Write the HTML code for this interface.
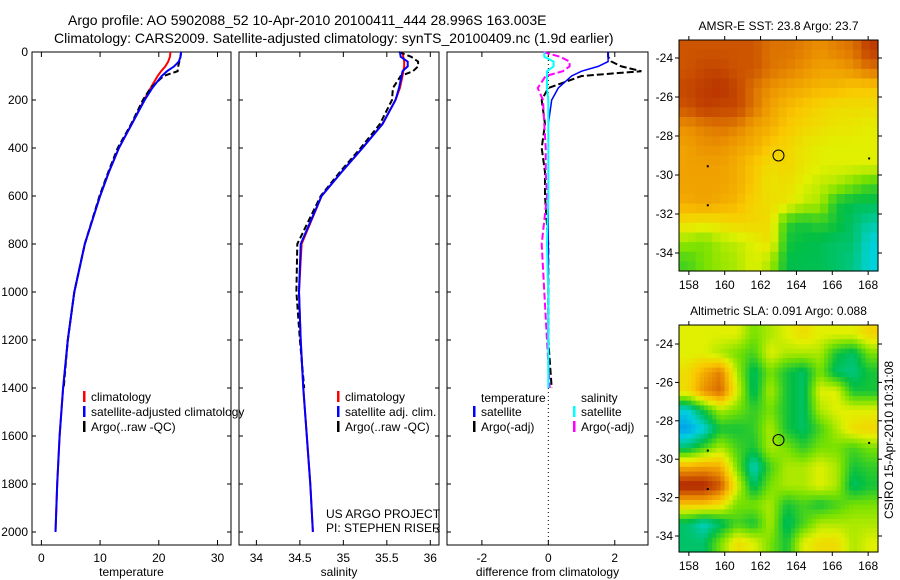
<!DOCTYPE html>
<html><head><meta charset="utf-8"><style>
body{margin:0;background:#fff;}
svg{display:block;font-family:"Liberation Sans",sans-serif;}
</style></head><body>
<svg id="chart" width="900" height="580" viewBox="0 0 900 580">
<rect x="0" y="0" width="900" height="580" fill="#fff"/>
<text x="68" y="25" font-size="14">Argo profile: AO 5902088_52 10-Apr-2010 20100411_444 28.996S 163.003E</text>
<text x="54" y="43" font-size="14">Climatology: CARS2009. Satellite-adjusted climatology: synTS_20100409.nc (1.9d earlier)</text>
<g id="plots"></g>
<text transform="translate(893,440) rotate(-90)" text-anchor="middle" font-size="12">CSIRO 15-Apr-2010 10:31:08</text>
</svg>
<script>
// ---------- data ----------
const depths = [0,20,40,60,80,100,150,200,300,400,500,600,800,1000,1200,1400,1600,1800,2000];
const tempClim = [22.0,21.9,21.6,21.1,20.4,19.8,18.6,17.5,15.4,13.2,11.5,10.0,7.4,5.6,4.5,3.7,3.1,2.7,2.4];
const tempSat  = [23.8,23.7,23.4,22.6,21.4,20.5,18.9,17.6,15.4,13.2,11.5,10.0,7.4,5.6,4.5,3.7,3.1,2.7,2.4];
const tempArgo = [23.8,23.7,23.5,23.3,23.2,20.8,18.6,17.3,15.3,13.0,11.4,9.9,7.4,5.6,4.5,3.8];
const salClim  = [35.68,35.69,35.70,35.70,35.69,35.68,35.65,35.60,35.45,35.22,34.98,34.75,34.52,34.49,34.51,34.54,34.58,34.62,34.65];
const salSat   = [35.65,35.66,35.74,35.74,35.68,35.67,35.64,35.60,35.45,35.22,34.98,34.75,34.51,34.49,34.51,34.54,34.58,34.62,34.65];
const salArgo  = [35.64,35.78,35.86,35.86,35.80,35.66,35.57,35.56,35.42,35.20,34.96,34.74,34.47,34.46,34.50,34.55];
const depthTicks = [0,200,400,600,800,1000,1200,1400,1600,1800,2000];
const tempTicks = [0,10,20,30];
const salTicks = [34,34.5,35,35.5,36];
const diffTicks = [-2,0,2];
const lonTicks = [158,160,162,164,166,168];
const latTicks = [24,26,28,30,32,34];
const sst = [
[0.85,0.85,0.85,0.85,0.85,0.80,0.80,0.78,0.75,0.78,0.80,0.90],
[0.85,0.88,0.88,0.85,0.85,0.80,0.78,0.75,0.72,0.72,0.75,0.80],
[0.88,0.90,0.92,0.88,0.80,0.75,0.72,0.70,0.68,0.68,0.65,0.65],
[0.85,0.90,0.88,0.88,0.80,0.72,0.68,0.65,0.62,0.60,0.60,0.60],
[0.75,0.78,0.80,0.78,0.72,0.70,0.65,0.62,0.60,0.58,0.58,0.56],
[0.72,0.75,0.75,0.72,0.70,0.65,0.62,0.58,0.56,0.55,0.55,0.55],
[0.72,0.72,0.72,0.70,0.65,0.60,0.62,0.58,0.55,0.55,0.55,0.55],
[0.72,0.72,0.72,0.70,0.65,0.58,0.60,0.55,0.52,0.50,0.45,0.40],
[0.70,0.72,0.70,0.68,0.62,0.60,0.58,0.52,0.50,0.35,0.32,0.32],
[0.60,0.58,0.60,0.62,0.62,0.60,0.38,0.35,0.38,0.35,0.30,0.25],
[0.48,0.45,0.50,0.52,0.55,0.60,0.35,0.33,0.32,0.30,0.30,0.20],
[0.40,0.45,0.48,0.50,0.55,0.50,0.33,0.32,0.32,0.30,0.28,0.20]];
const sla = [
[0.55,0.55,0.55,0.55,0.45,0.50,0.55,0.60,0.55,0.55,0.55,0.62],
[0.55,0.55,0.50,0.45,0.40,0.55,0.50,0.50,0.50,0.35,0.30,0.45],
[0.60,0.70,0.78,0.50,0.30,0.45,0.35,0.30,0.45,0.30,0.28,0.35],
[0.60,0.75,0.82,0.55,0.30,0.50,0.35,0.30,0.55,0.55,0.35,0.35],
[0.20,0.35,0.50,0.45,0.38,0.45,0.35,0.30,0.50,0.55,0.55,0.55],
[0.12,0.20,0.35,0.35,0.38,0.50,0.35,0.30,0.40,0.50,0.60,0.62],
[0.30,0.40,0.50,0.40,0.35,0.50,0.45,0.38,0.45,0.45,0.40,0.45],
[0.70,0.72,0.70,0.45,0.22,0.40,0.50,0.50,0.55,0.50,0.35,0.38],
[0.95,0.95,0.85,0.55,0.30,0.45,0.50,0.50,0.55,0.50,0.30,0.35],
[0.65,0.65,0.60,0.45,0.45,0.50,0.35,0.40,0.35,0.40,0.45,0.45],
[0.30,0.22,0.30,0.40,0.35,0.50,0.30,0.40,0.50,0.50,0.50,0.50],
[0.30,0.30,0.45,0.60,0.55,0.45,0.35,0.55,0.60,0.60,0.50,0.55]];
const floatLon = 163.0, floatLat = 29.0;

// ---------- helpers ----------
const NS='http://www.w3.org/2000/svg';
const root=document.getElementById('plots');
function mk(tag,attrs,parent){const e=document.createElementNS(NS,tag);for(const k in attrs)e.setAttribute(k,attrs[k]);(parent||root).appendChild(e);return e;}
function txt(x,y,s,size,anchor,parent){const t=mk('text',{x:x,y:y,'font-size':size,'text-anchor':anchor||'start'},parent);t.textContent=s;return t;}
const TOP=52, BOT=545;
const yD=d=>TOP+d*0.24;

function panel(name,x0,x1,xmin,xmax,ticks,label,showY){
  const g=mk('g',{});
  
  
  const sx=v=>x0+(v-xmin)/(xmax-xmin)*(x1-x0);
  const fr=mk('rect',{x:x0,y:TOP,width:x1-x0,height:BOT-TOP,fill:'none',stroke:'#000','stroke-width':1},g);
  
  
  ticks.forEach(v=>{
    mk('line',{x1:sx(v),x2:sx(v),y1:TOP,y2:TOP+5,stroke:'#000'},g);
    mk('line',{x1:sx(v),x2:sx(v),y1:BOT,y2:BOT-5,stroke:'#000'},g);
    const t=txt(sx(v),BOT+17,String(v),12,'middle',g);
    
    
  });
  depthTicks.forEach(d=>{
    mk('line',{x1:x0,x2:x0+4,y1:yD(d),y2:yD(d),stroke:'#000'},g);
    mk('line',{x1:x1,x2:x1-4,y1:yD(d),y2:yD(d),stroke:'#000'},g);
    if(showY){const t=txt(x0-4,yD(d)+4,String(d),12,'end',g);
      
      }
  });
  const xl=txt((x0+x1)/2,BOT+31,label,12,'middle',g);
  
  
  return {g,sx};
}
function line(g,sx,vals,color,dash,w,nm){
  const pts=vals.map((v,i)=>sx(v).toFixed(1)+','+yD(depths[i]).toFixed(1)).join(' ');
  const p=mk('polyline',{points:pts,fill:'none',stroke:color,'stroke-width':w||2,'stroke-dasharray':dash||'none'},g);
  
  
}
function legend(g,x,y,items){
  items.forEach((it,i)=>{
    mk('rect',{x:x,y:y+i*15-10,width:2.5,height:11,fill:it[1]},g);
    const t=txt(x+8,y+i*15,it[0],12,'start',g);
    
    
  });
}

// temperature panel
const P1=panel('temperature-panel',32,231,-1.6,32.3,tempTicks,'temperature',true);
line(P1.g,P1.sx,tempClim,'#f00',null,2,'temp-climatology-line');
line(P1.g,P1.sx,tempArgo,'#000','6,3',2,'temp-argo-line');
line(P1.g,P1.sx,tempSat,'#00f',null,2,'temp-satellite-line');
legend(P1.g,83,401,[['climatology','#f00'],['satellite-adjusted climatology','#00f'],['Argo(..raw -QC)','#000']]);

// salinity panel
const P2=panel('salinity-panel',239,439,33.8,36.1,salTicks,'salinity',false);
line(P2.g,P2.sx,salClim,'#f00',null,2,'sal-climatology-line');
line(P2.g,P2.sx,salArgo,'#000','6,3',2,'sal-argo-line');
line(P2.g,P2.sx,salSat,'#00f',null,2,'sal-satellite-line');
legend(P2.g,337,401,[['climatology','#f00'],['satellite adj. clim.','#00f'],['Argo(..raw -QC)','#000']]);
txt(326,518,'US ARGO PROJECT',12,'start',P2.g);
txt(326,532,'PI: STEPHEN RISER',12,'start',P2.g);

// difference panel
const P3=panel('difference-panel',447,648,-3.05,3.0,diffTicks,'difference from climatology',false);
mk('line',{x1:P3.sx(0),x2:P3.sx(0),y1:TOP,y2:BOT,stroke:'#000','stroke-dasharray':'1,3'},P3.g);
const n=16;
const dTs=tempSat.slice(0,n).map((v,i)=>v-tempClim[i]);
const dTa=tempArgo.map((v,i)=>v-tempClim[i]);
const dSs=salSat.slice(0,n).map((v,i)=>(v-salClim[i])*4);
const dSa=salArgo.map((v,i)=>(v-salClim[i])*4);
line(P3.g,P3.sx,dTa,'#000','7,3',2,'diff-temp-argo-line');
line(P3.g,P3.sx,dSa,'#f0f','7,3',2,'diff-sal-argo-line');
line(P3.g,P3.sx,dTs,'#00f',null,1.5,'diff-temp-satellite-line');
line(P3.g,P3.sx,dSs,'#0ff',null,2,'diff-sal-satellite-line');
txt(481,402,'temperature',12,'start',P3.g);
txt(581,402,'salinity',12,'start',P3.g);
legend(P3.g,473,416,[['satellite','#00f'],['Argo(-adj)','#000']]);
legend(P3.g,573,416,[['satellite','#0ff'],['Argo(-adj)','#f0f']]);

// ---------- maps ----------
const stops=[[0,[0,90,255]],[0.2,[0,210,220]],[0.33,[0,190,70]],[0.45,[120,225,0]],[0.55,[225,240,0]],[0.65,[250,200,0]],[0.75,[235,145,0]],[0.85,[205,85,0]],[1,[160,10,0]]];
function cmap(v){for(let i=1;i<stops.length;i++){if(v<=stops[i][0]){const a=stops[i-1],b=stops[i],t=(v-a[0])/(b[0]-a[0]);return 'rgb('+a[1].map((c,k)=>Math.round(c+(b[1][k]-c)*t)).join(',')+')';}}return 'rgb(160,10,0)';}
function sample(grid,fr,fc){
  const R=grid.length,C=grid[0].length;
  const r=Math.max(0,Math.min(R-1,fr-0.5)), c=Math.max(0,Math.min(C-1,fc-0.5));
  const r0=Math.floor(r),c0=Math.floor(c),r1=Math.min(R-1,r0+1),c1=Math.min(C-1,c0+1);
  const tr=r-r0,tc=c-c0;
  return grid[r0][c0]*(1-tr)*(1-tc)+grid[r0][c1]*(1-tr)*tc+grid[r1][c0]*tr*(1-tc)+grid[r1][c1]*tr*tc;
}
function map(name,grid,x0,x1,y0,y1,lat24y,latScale,title,sub){
  const g=mk('g',{});
  
  
  const lonMin=157.45,lonMax=168.55;
  const sx=l=>x0+(l-lonMin)/(lonMax-lonMin)*(x1-x0);
  const sy=la=>lat24y+(la-24)*latScale;
  const rows=grid.length, cols=grid[0].length;
  const R=rows*sub, C=cols*sub;
  const cw=(x1-x0)/C, ch=(y1-y0)/R;
  for(let r=0;r<R;r++)for(let c=0;c<C;c++){
    const v=sample(grid,(r+0.5)/sub,(c+0.5)/sub);
    const cell=mk('rect',{x:(x0+c*cw).toFixed(2),y:(y0+r*ch).toFixed(2),width:(cw+0.6).toFixed(2),height:(ch+0.6).toFixed(2),fill:cmap(v)},g);
    
    
  }
  mk('rect',{x:x0,y:y0,width:x1-x0,height:y1-y0,fill:'none',stroke:'#000'},g);
  lonTicks.forEach(l=>{
    mk('line',{x1:sx(l),x2:sx(l),y1:y1,y2:y1+4,stroke:'#000'},g);
    mk('line',{x1:sx(l),x2:sx(l),y1:y0,y2:y0-4,stroke:'#000'},g);
    const t=txt(sx(l),y1+18,String(l),12,'middle',g);
    
    });
  latTicks.forEach(la=>{mk('line',{x1:x0-4,x2:x0,y1:sy(la),y2:sy(la),stroke:'#000'},g);
    mk('line',{x1:x1,x2:x1+4,y1:sy(la),y2:sy(la),stroke:'#000'},g);
    const t=txt(x0-6,sy(la)+4,'-'+la,12,'end',g);
    
    });
  const c=mk('circle',{cx:sx(floatLon),cy:sy(floatLat),r:5.5,fill:'none',stroke:'#000','stroke-width':1},g);
  
  
  [[159,29.5],[159,31.5],[168,29.1]].forEach(p=>mk('rect',{x:sx(p[0]),y:sy(p[1]),width:2,height:2,fill:'#000'},g));
  const tt=txt((x0+x1)/2,y0-10,title,12,'middle',g);
  
  
}
map('sst-map',sst,679,878,40,271,58,19.5,'AMSR-E SST: 23.8 Argo: 23.7',2);
map('sla-map',sla,679,878,325,552,344,19.2,'Altimetric SLA: 0.091 Argo: 0.088',4);
</script>
</body></html>
